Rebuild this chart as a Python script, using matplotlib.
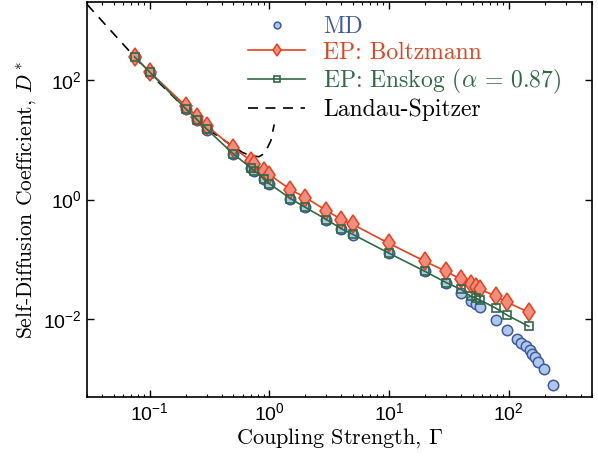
import matplotlib.pyplot as plt
from matplotlib.ticker import LogLocator, NullFormatter, NullLocator


plt.rcParams.update(
    {
        "font.family": "cmr10",
        "mathtext.fontset": "cm",
        "axes.unicode_minus": False,
        "axes.linewidth": 1.2,
    }
)

# MD results (circles)
md_gamma = [0.075, 0.1, 0.2, 0.25, 0.3, 0.5, 0.7, 0.75, 0.9, 1.0, 1.5, 2.0,
            3.0, 4.0, 5.0, 10, 20, 30, 40, 48, 53, 58, 78, 97,
            117, 128, 139, 150, 158, 166, 175, 196, 233]
md_d = [242, 131, 33, 21.5, 14.7, 5.8, 3.4, 3.05, 2.24, 1.85, 1.04, 0.74,
        0.46, 0.325, 0.26, 0.126, 0.063, 0.041, 0.027, 0.020, 0.0178, 0.0158, 0.0096, 0.0066,
        0.0046, 0.0040, 0.0035, 0.0030, 0.0026, 0.0023, 0.0019, 0.00147, 0.0008]

# EP with Boltzmann cross sections (diamonds)
ep_gamma = [0.075, 0.1, 0.2, 0.25, 0.3, 0.5, 0.7, 0.75, 0.9, 1.0, 1.5, 2.0,
            3.0, 4.0, 5.0, 10, 20, 30, 40, 48, 53, 58, 78, 97, 147]
boltz_d = [242, 136, 36.9, 24.2, 17.1, 7.36, 4.47, 3.98, 3.04, 2.61, 1.47, 1.08,
           0.656, 0.464, 0.383, 0.185, 0.0926, 0.063, 0.0464, 0.0383, 0.0341, 0.0316, 0.0242, 0.0192, 0.0131]

# EP with Enskog correction (squares)
enskog_d = [242, 136, 33, 21.5, 15.1, 5.8, 3.4, 3.05, 2.24, 1.85, 1.04, 0.74,
            0.464, 0.325, 0.261, 0.127, 0.063, 0.041, 0.0315, 0.0242, 0.0224, 0.0208, 0.0153, 0.0117, 0.0076]

# Landau-Spitzer curve (dashed)
ls_gamma = [0.03, 0.075, 0.1, 0.2, 0.3, 0.49, 0.6, 0.7, 0.82, 0.9, 0.97, 1.03, 1.1]
ls_d = [1830, 242, 128, 33, 15.5, 7.9, 6.1, 5.4, 5.2, 5.8, 7.5, 9.6, 18]

BLUE_EDGE = "#3d5a9e"
BLUE_FILL = "#adc8ec"
RED = "#e8401c"
RED_FILL = "#f28c7c"
GREEN = "#2f6a47"

fig = plt.figure(figsize=(5.98, 4.59), dpi=100)
ax = fig.add_axes([0.1455, 0.135, 0.845, 0.8605])

ax.plot(ls_gamma, ls_d, color="black", lw=1.2, ls=(0, (6, 4.5)), zorder=2,
        label="Landau-Spitzer")
ax.plot(md_gamma, md_d, ls="none", marker="o", ms=7.5, mfc=BLUE_FILL, mec=BLUE_EDGE,
        mew=1.1, zorder=3, label="MD")
ax.plot(ep_gamma, boltz_d, color=RED, lw=1.2, marker="d", ms=9.5, mfc=RED_FILL, mec=RED,
        mew=1.1, zorder=4, label="EP: Boltzmann")
ax.plot(ep_gamma, enskog_d, color=GREEN, lw=1.2, marker="s", ms=6, mfc="none", mec=GREEN,
        mew=1.2, zorder=5, label=r"EP: Enskog ($\alpha$ = 0.87)")

ax.set_xscale("log")
ax.set_yscale("log")
ax.set_xlim(0.03, 500)
ax.set_ylim(5e-4, 2000)

ax.set_yticks([1e-2, 1, 1e2])
ax.yaxis.set_minor_locator(NullLocator())
ax.xaxis.set_minor_locator(LogLocator(base=10, subs=range(2, 10), numticks=50))
ax.xaxis.set_minor_formatter(NullFormatter())
ax.tick_params(which="both", direction="in", top=True, right=True,
               labelsize=14, labelfontfamily="Liberation Sans")
ax.tick_params(which="major", length=5, width=1)
ax.tick_params(which="minor", length=2.5, width=0.8)

ax.set_xlabel(r"Coupling Strength, $\Gamma$", fontsize=16, labelpad=2)
ax.set_ylabel(r"Self-Diffusion Coefficient, $D^*$", fontsize=15.5, labelpad=4)

handles, labels = ax.get_legend_handles_labels()
order = [1, 2, 3, 0]
leg = ax.legend([handles[i] for i in order], [labels[i] for i in order],
                loc="upper left", bbox_to_anchor=(0.305, 0.982), fontsize=17,
                frameon=False, handlelength=2.4, handletextpad=0.76,
                labelspacing=0.13, borderaxespad=0, borderpad=0.3,
                markerscale=0.65)
for text, color in zip(leg.get_texts(), [BLUE_EDGE, RED, GREEN, "black"]):
    text.set_color(color)

fig.savefig("out.png", dpi=100)
